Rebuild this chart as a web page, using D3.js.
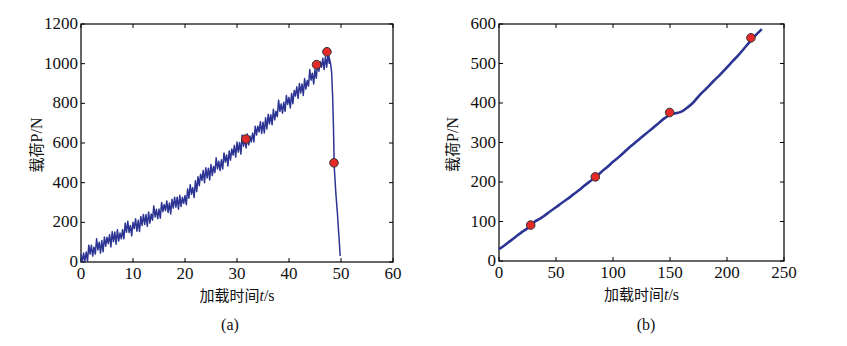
<!DOCTYPE html>
<html>
<head>
<meta charset="utf-8">
<script src="https://cdn.jsdelivr.net/npm/d3@7"></script>
<style>
    body { margin: 0; background: #fff; }
    svg { display: block; font-family: 'Times New Roman', 'Liberation Serif', 'DejaVu Serif', serif; }
    .frame { fill: none; stroke: #000; stroke-width: 1.2; }
    .tick-mark { stroke: #000; stroke-width: 1; }
    .tick-label { font-size: 17px; fill: #111; }
    .axis-title { font-size: 16px; fill: #111; }
    .cjk { font-family: 'Noto Sans CJK SC', sans-serif; font-size: 15px; }
    .curve { fill: none; stroke: #2d3594; stroke-linejoin: round; }
    .marker { fill: #e52a2a; stroke: #333; stroke-width: 1; }
</style>
</head>
<body>
<svg id="chart" width="847" height="346"></svg>
<script>
/**
 * Data, panel (a): load sampled every 0.25 s up to the peak, then the failure drop.
 */
const sampleStepA = 0.25;
const loadA = [
    40, 0, 45, 5,       50, 5, 85, 40,      85, 30, 75, 40,     117, 61, 100, 45,
    108, 52, 126, 80,   125, 93, 138, 76,   153, 102, 151, 90,  162, 106, 146, 117,
    163, 117, 196, 150, 205, 149, 184, 132, 200, 169, 218, 155, 210, 154, 230, 184,
    240, 189, 239, 180, 252, 196, 242, 211, 283, 227, 266, 218, 267, 221, 300, 254,
    290, 259, 308, 250, 298, 242, 316, 272, 327, 276, 327, 266, 336, 280, 326, 296,
    335, 289, 368, 322, 390, 342, 375, 325, 410, 355, 430, 385, 443, 412, 461, 400,
    475, 424, 473, 414, 492, 436, 482, 451, 525, 469, 508, 461, 515, 469, 550, 504,
    540, 484, 560, 514, 570, 539, 588, 529, 605, 554, 603, 544, 640, 584, 623, 575,
    645, 590, 635, 605, 650, 605, 685, 640, 685, 656, 707, 648, 705, 651, 727, 671,
    745, 696, 743, 692, 770, 717, 760, 733, 815, 760, 797, 750, 805, 760, 840, 795,
    830, 777, 850, 798, 865, 837, 883, 825, 900, 852, 898, 840, 925, 872, 915, 887,
    970, 917, 952, 898, 970, 927, 1005, 962, 1010, 982, 1027, 970, 1035, 982, 1052, 1002
];
const dropTimeA = [47.5, 47.7, 48.0, 48.2, 48.4, 48.55, 48.7, 49.0, 49.3, 49.6, 49.85];
const dropLoadA = [1040, 1035, 1000, 955, 830, 680, 480, 350, 250, 130, 30];
const markTimeA = [31.7, 45.3, 47.3, 48.65];
const markLoadA = [620, 995, 1060, 500];

/**
 * Data, panel (b).
 */
const timeB = [0, 5, 10, 15, 20, 25, 28, 32, 36, 40, 45, 50, 55, 60, 65, 70, 75, 80, 85, 90,
    95, 100, 105, 110, 115, 120, 125, 130, 135, 140, 145, 148, 151, 155, 160, 165, 170,
    176, 182, 188, 194, 200, 205, 210, 215, 220, 225, 230.5];
const loadB = [30, 40, 51, 62, 73, 83, 91, 101, 107, 115, 126, 136, 147, 157, 168, 179, 191, 202, 213, 226,
    238, 251, 263, 276, 289, 301, 313, 325, 337, 349, 361, 367, 372, 374, 378, 388, 400,
    420, 437, 455, 472, 490, 506, 521, 538, 555, 571, 587];
const markTimeB = [27.8, 84.5, 149.7, 221];
const markLoadB = [91, 213, 376, 565];

const ticksAX = [0, 10, 20, 30, 40, 50, 60];
const ticksAY = [0, 200, 400, 600, 800, 1000, 1200];
const ticksBX = [0, 50, 100, 150, 200, 250];
const ticksBY = [0, 100, 200, 300, 400, 500, 600];

const svg = d3.select('#chart');

/**
 * Draws one MATLAB-style panel: boxed axes with inward ticks on all sides.
 */
function drawPanel(cfg) {
    const x = d3.scaleLinear().domain(cfg.xDomain).range([cfg.left, cfg.right]);
    const y = d3.scaleLinear().domain(cfg.yDomain).range([cfg.bottom, cfg.top]);
    const g = svg.append('g').attr('class', 'panel');
    const tickLen = 4;

    g.append('rect').attr('class', 'frame')
        .attr('x', cfg.left).attr('y', cfg.top)
        .attr('width', cfg.right - cfg.left).attr('height', cfg.bottom - cfg.top);

    // X ticks, bottom and top
    cfg.xTicks.forEach(v => {
        const px = x(v);
        g.append('line').attr('class', 'tick-mark')
            .attr('x1', px).attr('x2', px).attr('y1', cfg.bottom).attr('y2', cfg.bottom - tickLen);
        g.append('line').attr('class', 'tick-mark')
            .attr('x1', px).attr('x2', px).attr('y1', cfg.top).attr('y2', cfg.top + tickLen);
        g.append('text').attr('class', 'tick-label')
            .attr('x', px).attr('y', cfg.bottom + 17)
            .attr('text-anchor', 'middle').text(v);
    });

    // Y ticks, left and right
    cfg.yTicks.forEach(v => {
        const py = y(v);
        g.append('line').attr('class', 'tick-mark')
            .attr('x1', cfg.left).attr('x2', cfg.left + tickLen).attr('y1', py).attr('y2', py);
        g.append('line').attr('class', 'tick-mark')
            .attr('x1', cfg.right).attr('x2', cfg.right - tickLen).attr('y1', py).attr('y2', py);
        g.append('text').attr('class', 'tick-label')
            .attr('x', cfg.left - 3).attr('y', py + 5)
            .attr('text-anchor', 'end').text(v);
    });

    const line = d3.line().x(d => x(d[0])).y(d => y(d[1]));
    g.append('path').attr('class', 'curve')
        .attr('stroke-width', cfg.lineWidth)
        .attr('d', line.curve(cfg.curve)(cfg.points));

    g.selectAll('circle.marker').data(cfg.marks).enter()
        .append('circle').attr('class', 'marker')
        .attr('cx', d => x(d[0])).attr('cy', d => y(d[1])).attr('r', 4.3);

    // Axis titles
    const xt = g.append('text').attr('class', 'axis-title')
        .attr('x', (cfg.left + cfg.right) / 2).attr('y', cfg.bottom + 39)
        .attr('text-anchor', 'middle');
    xt.append('tspan').attr('class', 'cjk').text('加载时间');
    xt.append('tspan').attr('font-style', 'italic').text('t');
    xt.append('tspan').text('/s');

    const yt = g.append('text').attr('class', 'axis-title')
        .attr('transform', 'translate(' + cfg.yTitleX + ',' + ((cfg.top + cfg.bottom) / 2 + 2) + ') rotate(-90)')
        .attr('text-anchor', 'middle');
    yt.append('tspan').attr('class', 'cjk').text('载荷');
    yt.append('tspan').text('P/N');

    g.append('text').attr('class', 'axis-title')
        .attr('x', cfg.captionX).attr('y', 330)
        .attr('text-anchor', 'middle').attr('font-size', '15px')
        .text(cfg.caption);
}

const pointsA = loadA.map((v, i) => [i * sampleStepA, v])
    .concat(dropTimeA.map((t, i) => [t, dropLoadA[i]]));

drawPanel({
    left: 81, right: 393, top: 24, bottom: 262,
    xDomain: [0, 60], yDomain: [0, 1200],
    xTicks: ticksAX, yTicks: ticksAY,
    points: pointsA,
    marks: markTimeA.map((t, i) => [t, markLoadA[i]]),
    lineWidth: 1.5, curve: d3.curveLinear,
    yTitleX: 42, captionX: 230, caption: '(a)'
});

drawPanel({
    left: 499, right: 784, top: 24, bottom: 261,
    xDomain: [0, 250], yDomain: [0, 600],
    xTicks: ticksBX, yTicks: ticksBY,
    points: timeB.map((t, i) => [t, loadB[i]]),
    marks: markTimeB.map((t, i) => [t, markLoadB[i]]),
    lineWidth: 2.6, curve: d3.curveMonotoneX,
    yTitleX: 458, captionX: 646, caption: '(b)'
});
</script>
</body>
</html>
